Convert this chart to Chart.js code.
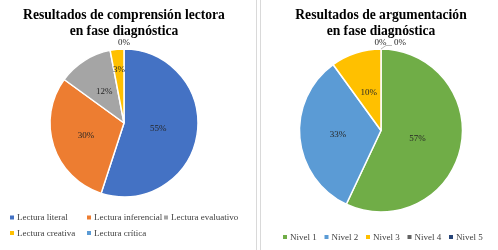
<!DOCTYPE html>
<html>
<head>
<meta charset="utf-8">
<script src="https://cdn.jsdelivr.net/npm/chart.js@4.4.1/dist/chart.umd.min.js"></script>
<style>
  html, body { margin: 0; padding: 0; background: #fff; }
  #wrap { position: relative; width: 498px; height: 250px; overflow: hidden; }
  .box { position: absolute; top: 0; height: 250px; }
  #left { left: 0; width: 245px; }
  #right { left: 262px; width: 236px; }
  .sep { position: absolute; top: 0; width: 1px; height: 250px; background: #d9d9d9; }
</style>
</head>
<body>
<div id="wrap">
  <div class="box" id="left"><canvas id="chartLeft"></canvas></div>
  <div class="sep" style="left:256px"></div>
  <div class="sep" style="left:260px"></div>
  <div class="box" id="right"><canvas id="chartRight"></canvas></div>
</div>
<script>
// datos
var lecturaLabels = ["Lectura literal", "Lectura inferencial", "Lectura evaluativo", "Lectura creativa", "Lectura crítica"];
var lecturaValues = [55, 30, 12, 3, 0];
var lecturaColors = ["#4472C4", "#ED7D31", "#A5A5A5", "#FFC000", "#5B9BD5"];

var nivelLabels = ["Nivel 1", "Nivel 2", "Nivel 3", "Nivel 4", "Nivel 5"];
var nivelValues = [57, 33, 10, 0, 0];
var nivelColors = ["#70AD47", "#5B9BD5", "#FFC000", "#636363", "#264478"];

var serif = '"Liberation Serif", "Times New Roman", serif';

// etiquetas de porcentaje
var sliceLabels = {
  id: "sliceLabels",
  afterDatasetsDraw: function (chart, args, opts) {
    var ctx = chart.ctx;
    var meta = chart.getDatasetMeta(0);
    var values = chart.data.datasets[0].data;
    var z = 0;
    ctx.save();
    ctx.font = "9px " + serif;
    ctx.fillStyle = "#262626";
    ctx.textAlign = "center";
    ctx.textBaseline = "middle";
    meta.data.forEach(function (arc, i) {
      var txt = values[i] + "%";
      if (values[i] > 0) {
        var mid = (arc.startAngle + arc.endAngle) / 2;
        var r = arc.outerRadius * opts.dist[i];
        ctx.fillText(txt, arc.x + Math.cos(mid) * r, arc.y + Math.sin(mid) * r);
      } else {
        var off = opts.zero[z++];
        var top = arc.y - arc.outerRadius;
        ctx.fillText(txt, arc.x + off[0], top + off[1]);
        if (off[2]) {
          ctx.strokeStyle = "#a6a6a6";
          ctx.lineWidth = 0.8;
          ctx.beginPath();
          ctx.moveTo(arc.x, top);
          ctx.lineTo(arc.x + 5, top - 3.5);
          ctx.lineTo(arc.x + off[0] - 8, top - 3.5);
          ctx.stroke();
        }
      }
    });
    ctx.restore();
  }
};

// leyenda en columnas fijas
var gridLegend = {
  id: "gridLegend",
  afterDraw: function (chart, args, opts) {
    var ctx = chart.ctx;
    var labels = chart.data.labels;
    var colors = chart.data.datasets[0].backgroundColor;
    ctx.save();
    ctx.font = opts.fontSize + "px " + serif;
    ctx.textBaseline = "middle";
    ctx.textAlign = "left";
    labels.forEach(function (lab, i) {
      var col = i % opts.cols;
      var row = Math.floor(i / opts.cols);
      var x = opts.x0 + col * opts.colWidth;
      var y = opts.y0 + row * opts.rowHeight;
      ctx.fillStyle = colors[i];
      ctx.fillRect(x - 2, y - 2, 4, 4);
      ctx.fillStyle = "#404040";
      ctx.fillText(lab, x + 5, y + 0.5);
    });
    ctx.restore();
  }
};

function makePie(id, labels, values, colors, radius, pad, dist, zero, legend) {
  return new Chart(document.getElementById(id).getContext("2d"), {
    type: "pie",
    data: {
      labels: labels,
      datasets: [{
        data: values,
        backgroundColor: colors,
        borderColor: "#ffffff",
        borderWidth: 1.5,
        radius: radius
      }]
    },
    options: {
      responsive: true,
      maintainAspectRatio: false,
      animation: false,
      layout: { padding: pad },
      plugins: {
        legend: { display: false },
        tooltip: { enabled: false },
        title: {
          display: true,
          text: legend.title,
          color: "#000000",
          font: { family: serif, size: 13.6, weight: "bold", lineHeight: 1.15 },
          padding: { top: 8, bottom: 9.7 }
        },
        sliceLabels: { dist: dist, zero: zero },
        gridLegend: legend
      }
    },
    plugins: [sliceLabels, gridLegend]
  });
}

makePie("chartLeft", lecturaLabels, lecturaValues, lecturaColors, 74,
  { left: 3, right: 0, top: 0, bottom: 53 },
  [0.47, 0.54, 0.5, 0.73, 0],
  [[0, -6]],
  { title: ["Resultados de comprensión lectora", "en fase diagnóstica"],
    cols: 3, x0: 12, y0: 217.5, colWidth: 77, rowHeight: 15.5, fontSize: 9 });

makePie("chartRight", nivelLabels, nivelValues, nivelColors, 81.5,
  { left: 2, right: 0, top: 0, bottom: 38 },
  [0.46, 0.53, 0.49, 0, 0],
  [[-0.5, -6, false], [19, -6, true]],
  { title: ["Resultados de argumentación", "en fase diagnóstica"],
    cols: 5, x0: 23, y0: 237, colWidth: 41.5, rowHeight: 15.5, fontSize: 9 });
</script>
</body>
</html>
